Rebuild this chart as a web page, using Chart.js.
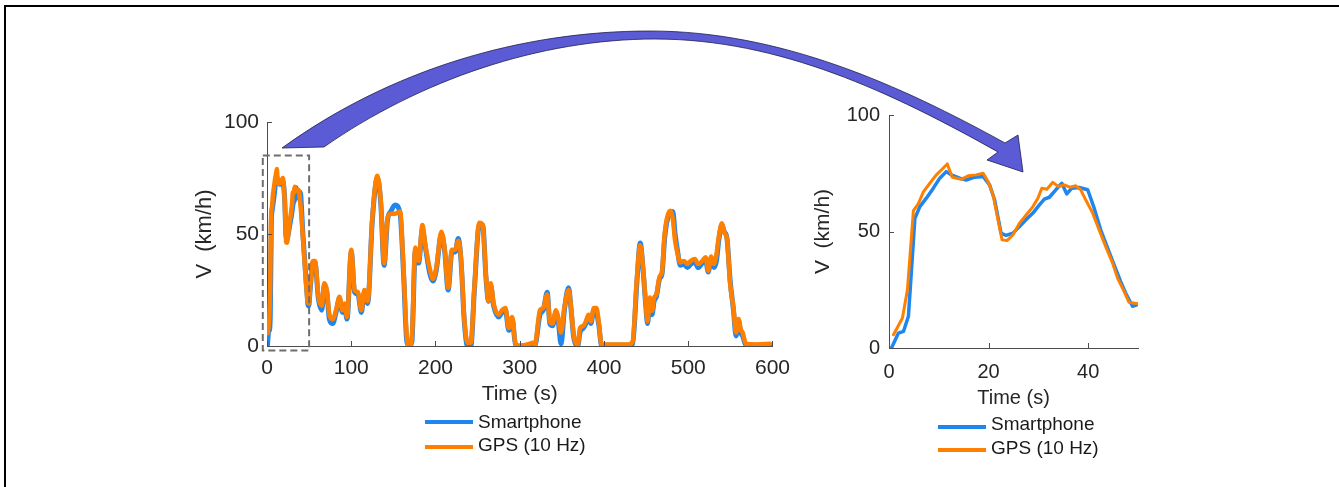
<!DOCTYPE html>
<html>
<head>
<meta charset="utf-8">
<script src="https://cdn.jsdelivr.net/npm/chart.js@4.4.0/dist/chart.umd.min.js"></script>
<style>
  body { margin: 0; background: #fff; }
  #page { position: relative; width: 1339px; height: 487px; overflow: hidden; font-family: "Liberation Sans", Arial, sans-serif; }
  canvas { position: absolute; }
  .key { position: absolute; height: 4px; width: 48px; }
  .keyText { position: absolute; font-size: 19px; line-height: 22px; color: #1a1a1a; white-space: pre; }
</style>
</head>
<body>
<div id="page">
  <canvas id="leftChart" width="630" height="320" style="left:170px;top:95px"></canvas>
  <canvas id="rightChart" width="380" height="335" style="left:790px;top:85px"></canvas>
  <canvas id="overlay" width="1339" height="487" style="left:0;top:0"></canvas>

  <div class="key" style="left:425px;top:420px;background:#1f86ef"></div>
  <div class="keyText" style="left:478px;top:411px">Smartphone</div>
  <div class="key" style="left:425px;top:445px;background:#ff8000"></div>
  <div class="keyText" style="left:478px;top:434px">GPS (10 Hz)</div>

  <div class="key" style="left:938px;top:425px;background:#1f86ef"></div>
  <div class="keyText" style="left:991px;top:413px">Smartphone</div>
  <div class="key" style="left:938px;top:448px;background:#ff8000"></div>
  <div class="keyText" style="left:991px;top:437px">GPS (10 Hz)</div>
</div>

<script>
// first 50 s (the zoomed panel, also the start of the full trip)
const zoomGpsTime = [0.9, 2.7, 3.7, 4.9, 5.9, 6.9, 8.2, 9.5, 10.5, 11.7, 12.7, 14.5, 15.9, 17.5, 18.9, 19.9, 20.9, 21.9, 22.7, 23.7,
  24.9, 26.2, 27.5, 28.9, 29.9, 30.7, 31.7, 32.9, 34, 35.2, 36.3, 37.5, 38.5, 39.5, 40.9, 42.2, 43.5, 44.9, 45.9, 47.2, 48.2, 49.9];
const zoomGps = [5.7, 12.9, 25, 59, 62, 67, 70.7, 74.3, 76.4, 79, 73.3, 72.4, 73.9, 74.3, 75, 71.4, 65.7, 55, 46.4, 46.1,
  48.6, 53.6, 57, 60.7, 64.3, 68.6, 68.1, 71.1, 69.3, 70, 69, 69.6, 67.9, 63.6, 57.9, 50.7, 43.6, 36.4, 30, 24.3, 19.6, 19];

const zoomPhoneTime = [0.5, 1.9, 2.9, 3.9, 5.2, 6.2, 7.5, 8.9, 10.2, 11.5, 12.5, 14.2, 15.5, 17.2, 18.9, 20.2, 21.2, 22.5, 23.5, 24.9,
  26.2, 27.5, 28.9, 30.2, 31.2, 32.2, 33.5, 34.7, 35.7, 36.7, 38.2, 39.9, 41.2, 42.5, 43.9, 45.2, 46.5, 47.5, 48.9, 49.9];
const zoomPhone = [0, 6.4, 7.1, 13.6, 55.7, 60.7, 64.3, 68.6, 72.9, 75.7, 74.3, 72.9, 72.1, 73.3, 73.6, 70, 63.6, 49.3, 48.3, 49.3,
  52.1, 55, 57.9, 61.4, 63.9, 64.7, 67.9, 70.7, 66.1, 68.6, 68.9, 67.9, 60, 50.7, 42.9, 35.7, 28.6, 23.6, 17.9, 18.6];

// rest of the trip, 50 s to 600 s
const restTime = [51, 54.5, 57, 61, 65, 68, 71, 74, 78, 82, 86, 89.6, 92, 95, 100, 104, 108, 112, 115.6, 119.5,
  125, 131, 135, 139, 143, 147, 152, 158, 162, 166, 169, 172, 176, 180, 184.5, 188, 193.5, 197, 201, 207,
  211, 215, 219.5, 223.5, 227, 230.5, 234, 238, 242, 246, 252, 256, 260, 263, 265.5, 269, 275, 279, 283, 287,
  291, 295, 300, 312, 315.5, 318, 324, 328, 332.6, 335.7, 339, 343, 345.5, 349, 353, 358, 361, 364, 369, 371.5,
  375.5, 378.5, 381.7, 384.4, 388, 391, 394, 397, 414, 429, 434, 439, 443, 446.6, 449.4, 451.7, 454.4, 457, 459.5, 462.2,
  466, 468.8, 472, 475, 479, 481.7, 484.4, 487.5, 490.6, 495, 499, 503, 508, 511.7, 516.7, 520.6, 523.7, 527.2, 530.4, 533.5,
  536.2, 540, 542.8, 546, 549.8, 553.7, 556.8, 559.6, 562.3, 564.6, 568.5, 581, 597];
const restGps = [25, 38, 38, 22, 18, 28, 25, 14, 12, 16, 22, 16, 19, 13, 43, 25, 24, 16, 25, 20,
  57, 76, 65, 37, 57, 59, 59, 60, 35, 4, 0, 4, 44, 38, 54, 45, 34, 30, 35, 51,
  43, 26, 43, 43, 47, 38, 13, 1.5, 1.5, 25, 55, 54, 31, 20, 28, 19, 14, 16, 17, 8,
  13, 1, 0, 1, 1.5, 0.7, 16, 17, 23, 11, 10, 16, 13, 6, 17, 25, 17, 5, 0.7, 8,
  9, 11, 14, 11, 17, 17, 10, 0.7, 0.7, 0.7, 2, 30, 45, 34, 20, 11, 21.6, 15.7, 21.6, 23,
  31, 33, 50, 57.5, 60.4, 56.7, 47, 41, 37.3, 38, 36.6, 38, 38.8, 36.6, 38, 39.6, 33.6, 40, 36.6, 41,
  48.5, 54.8, 50.7, 47.8, 27.6, 17, 6, 12, 7.5, 6, 1, 0.7, 1];
const restPhone = [24, 37, 37, 21, 16, 27, 24, 12, 10, 15, 21, 15, 18, 12, 42, 24, 23, 15, 24, 19,
  56, 75, 64, 36, 56, 60, 63, 59, 33, 2, 0, 2, 42, 37, 52, 44, 32, 29, 34, 50,
  42, 25, 42, 42, 48, 37, 12, 0, 0, 24, 54, 54, 30, 20, 27, 18, 13, 15, 16, 7,
  12, 0.5, 0, 0.5, 1, 0.3, 14, 16, 24, 10, 9, 15, 12, 1, 16, 26, 16, 4, 0.3, 6,
  8, 10, 13, 10, 16, 15, 9, 0.3, 0.3, 0.3, 1, 28, 46, 33, 19, 10, 20, 14, 20, 22,
  30, 32, 48, 56, 59, 60, 50, 42, 36, 36.5, 35, 36.5, 37.5, 35, 37, 38.5, 33, 39, 35, 38,
  47, 54, 51, 48, 29, 16, 4.5, 11.5, 6, 4.5, 0.3, 0.3, 0.5];

const seriesNames = ['Smartphone', 'GPS (10 Hz)'];
const yTicks = [0, 50, 100];
const leftXTicks = [0, 100, 200, 300, 400, 500, 600];
const rightXTicks = [0, 20, 40];

const phoneColor = '#1f86ef';
const gpsColor = '#ff8000';
const axisColor = '#4d4d4d';
const textColor = '#262626';

function points(ts, vs) {
  return ts.map((t, i) => ({ x: t, y: vs[i] }));
}

// MATLAB style ticks pointing into the plot, plus optional dashed box
const innerTicks = {
  id: 'innerTicks',
  afterDraw(chart, args, opts) {
    const { ctx, chartArea: a, scales: { x, y } } = chart;
    ctx.save();
    ctx.strokeStyle = axisColor;
    ctx.lineWidth = 1;
    ctx.beginPath();
    x.ticks.forEach(t => {
      const px = Math.round(x.getPixelForValue(t.value)) + 0.5;
      ctx.moveTo(px, a.bottom);
      ctx.lineTo(px, a.bottom - 5);
    });
    y.ticks.forEach(t => {
      const py = Math.round(y.getPixelForValue(t.value)) + 0.5;
      ctx.moveTo(a.left, py);
      ctx.lineTo(a.left + 5, py);
    });
    ctx.stroke();
    if (opts.box) {
      const b = opts.box;
      const x0 = x.getPixelForValue(b.x0), x1 = x.getPixelForValue(b.x1);
      const y0 = y.getPixelForValue(b.y0), y1 = y.getPixelForValue(b.y1);
      ctx.strokeStyle = '#6e6e6e';
      ctx.lineWidth = 2;
      ctx.setLineDash([7, 4]);
      ctx.strokeRect(x0, y1, x1 - x0, y0 - y1);
    }
    ctx.restore();
  }
};

function makeChart(id, opt) {
  const ctx = document.getElementById(id);
  return new Chart(ctx, {
    type: 'line',
    data: {
      datasets: [{
        label: seriesNames[0],
        data: opt.phone,
        borderColor: phoneColor,
        borderWidth: opt.lw + 0.5,
        order: 2
      }, {
        label: seriesNames[1],
        data: opt.gps,
        borderColor: gpsColor,
        borderWidth: opt.lw,
        order: 1
      }]
    },
    options: {
      responsive: false,
      animation: false,
      events: [],
      elements: {
        point: { radius: 0 },
        line: { tension: 0, cubicInterpolationMode: opt.smooth ? 'monotone' : 'default', borderJoinStyle: 'round', borderCapStyle: 'round' }
      },
      layout: { padding: { top: opt.padTop, right: opt.padRight, left: 0, bottom: 0 } },
      plugins: {
        legend: { display: false },
        tooltip: { enabled: false },
        innerTicks: { box: opt.box }
      },
      scales: {
        x: {
          type: 'linear',
          min: 0,
          max: opt.xMax,
          afterBuildTicks: s => { s.ticks = opt.xTicks.map(v => ({ value: v })); },
          afterFit: s => { s.height = opt.xHeight; },
          grid: { display: false, drawTicks: false },
          border: { display: true, color: axisColor, width: 1 },
          ticks: { color: textColor, font: { family: 'Liberation Sans', size: opt.fs }, padding: opt.xTickPad, maxRotation: 0 },
          title: { display: true, text: 'Time (s)', color: textColor, font: { family: 'Liberation Sans', size: opt.fs }, padding: { top: 0, bottom: opt.xTitlePad } }
        },
        y: {
          min: 0,
          max: 100,
          afterBuildTicks: s => { s.ticks = yTicks.map(v => ({ value: v })); },
          afterFit: s => { s.width = opt.yWidth; },
          grid: { display: false, drawTicks: false },
          border: { display: true, color: axisColor, width: 1 },
          ticks: { color: textColor, font: { family: 'Liberation Sans', size: opt.fs }, padding: opt.yTickPad },
          title: { display: true, text: 'V  (km/h)', color: textColor, font: { family: 'Liberation Sans', size: opt.fs + 1 }, padding: { top: opt.yTitlePad, bottom: 0 } }
        }
      }
    },
    plugins: [innerTicks]
  });
}

makeChart('leftChart', {
  phone: points(zoomPhoneTime.concat(restTime), zoomPhone.concat(restPhone)),
  gps: points(zoomGpsTime.concat(restTime), zoomGps.concat(restGps)),
  lw: 4.5, smooth: true, xMax: 600, xTicks: leftXTicks,
  padTop: 27, padRight: 21, yWidth: 97, xHeight: 69,
  fs: 21, xTickPad: 10, xTitlePad: 8, yTickPad: 8, yTitlePad: 22,
  box: { x0: -5, x1: 50, y0: -2, y1: 85 }
});

makeChart('rightChart', {
  phone: points(zoomPhoneTime, zoomPhone),
  gps: points(zoomGpsTime, zoomGps),
  lw: 3, smooth: false, xMax: 50, xTicks: rightXTicks,
  padTop: 30, padRight: 32, yWidth: 99, xHeight: 72,
  fs: 20, xTickPad: 12, xTitlePad: 10, yTickPad: 9, yTitlePad: 21,
  box: null
});

// frame and the big curved arrow from the boxed part to the zoomed panel
function drawOverlay() {
  const ctx = document.getElementById('overlay').getContext('2d');
  ctx.fillStyle = '#000';
  ctx.fillRect(4, 5, 1335, 2);
  ctx.fillRect(4, 5, 2, 482);

  ctx.beginPath();
  ctx.moveTo(282, 148);
  ctx.bezierCurveTo(390, 70, 520, 31, 650, 31);
  ctx.bezierCurveTo(780, 31, 900, 85, 1005, 143);
  ctx.lineTo(1018, 135);
  ctx.lineTo(1023, 172);
  ctx.lineTo(987, 160);
  ctx.lineTo(998, 152);
  ctx.bezierCurveTo(893, 93, 780, 39, 655, 39);
  ctx.bezierCurveTo(540, 39, 420, 80, 324, 147);
  ctx.closePath();
  ctx.fillStyle = '#5b5bd6';
  ctx.fill();
  ctx.strokeStyle = '#20204a';
  ctx.lineWidth = 0.8;
  ctx.stroke();
}

drawOverlay();
</script>
</body>
</html>
